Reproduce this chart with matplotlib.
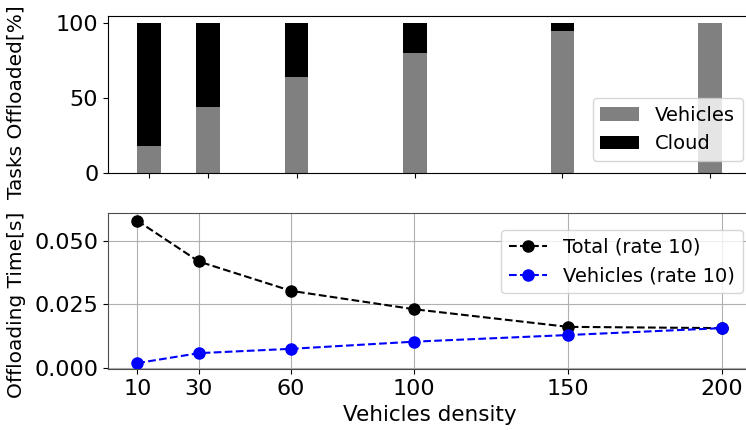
"""Offloaded task share and offloading time versus vehicle density."""

import matplotlib

matplotlib.use("Agg")
import matplotlib.pyplot as plt

density = [10, 30, 60, 100, 150, 200]
vehicles_pct = [18, 44, 64, 80, 95, 100]
cloud_pct = [100 - v for v in vehicles_pct]

total_time = [0.0578, 0.0418, 0.0303, 0.0231, 0.0162, 0.0157]
vehicles_time = [0.0020, 0.0059, 0.0076, 0.0104, 0.0130, 0.0157]

plt.rcParams["font.size"] = 15.5
plt.rcParams["xtick.labelsize"] = 16
plt.rcParams["ytick.labelsize"] = 16
plt.rcParams["legend.fontsize"] = 14

fig = plt.figure(figsize=(7.46, 4.30), dpi=100)
ax_top = fig.add_axes([0.1448, 0.5970, 0.862, 0.3665])
ax_bot = fig.add_axes([0.1448, 0.1413, 0.862, 0.3628])

# top: share of tasks handled by vehicles vs cloud
ax_top.bar(density, vehicles_pct, width=8, color="gray", label="Vehicles")
ax_top.bar(density, cloud_pct, width=8, bottom=vehicles_pct, color="black", label="Cloud")
ax_top.set_xticks(density)
ax_top.set_xticklabels([])
ax_top.set_yticks([0, 50, 100])
ax_top.set_ylim(0, 105)
ax_top.set_xlim(-3.9, 213.9)
ax_top.set_ylabel("Tasks Offloaded[%]", fontsize=14.5)
ax_top.yaxis.set_label_coords(-0.128, 0.45)
ax_top.legend(loc="lower right", bbox_to_anchor=(1.002, 0.015))

# bottom: offloading time
ax_bot.plot(density, total_time, "k--o", lw=1.5, ms=8, label="Total (rate 10)")
ax_bot.plot(density, vehicles_time, "b--o", lw=1.5, ms=8, label="Vehicles (rate 10)")
ax_bot.set_xticks(density)
ax_bot.set_yticks([0.0, 0.025, 0.05])
ax_bot.set_xlim(0.5, 209.5)
ax_bot.set_ylim(-0.0004, 0.0607)
ax_bot.grid(True)
for spine in ax_bot.spines.values():
    spine.set_color("0.3")
ax_bot.set_xlabel("Vehicles density")
ax_bot.set_ylabel("Offloading Time[s]", fontsize=14.5)
ax_bot.yaxis.set_label_coords(-0.128, 0.41)
ax_bot.legend(loc="upper right", bbox_to_anchor=(1.002, 0.955))

fig.savefig("out.png", dpi=100)
